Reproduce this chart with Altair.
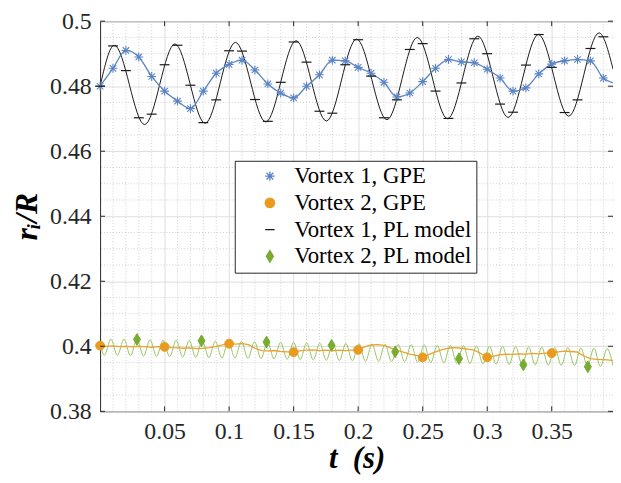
import altair as alt
import pandas as pd

# ---------------- data ----------------
series_names = ["Vortex 1, GPE", "Vortex 2, GPE", "Vortex 1, PL model", "Vortex 2, PL model"]

# Vortex 1, GPE (markers every 0.01 s)
t_gpe1 = [0.00, 0.01, 0.02, 0.03, 0.04, 0.05, 0.06, 0.07, 0.08, 0.09,
          0.10, 0.11, 0.12, 0.13, 0.14, 0.15, 0.16, 0.17, 0.18, 0.19,
          0.20, 0.21, 0.22, 0.23, 0.24, 0.25, 0.26, 0.27, 0.28, 0.29,
          0.30, 0.31, 0.32, 0.33, 0.34, 0.35, 0.36, 0.37, 0.38, 0.39]
r_gpe1 = [0.4800, 0.4855, 0.4910, 0.4890, 0.4830, 0.4785, 0.4754, 0.4731, 0.4785, 0.4840,
          0.4867, 0.4880, 0.4850, 0.4807, 0.4779, 0.4764, 0.4800, 0.4835, 0.4880, 0.4878,
          0.4858, 0.4840, 0.4812, 0.4767, 0.4779, 0.4814, 0.4855, 0.4882, 0.4875, 0.4872,
          0.4852, 0.4825, 0.4785, 0.4795, 0.4838, 0.4868, 0.4878, 0.4882, 0.4878, 0.4825]
t_gpe1_end = [0.3975]
r_gpe1_end = [0.4810]

# Vortex 2, GPE line
t_gpe2 = [0.000, 0.005, 0.010, 0.015, 0.020, 0.025, 0.030, 0.035, 0.040, 0.045,
          0.050, 0.055, 0.060, 0.065, 0.070, 0.075, 0.080, 0.085, 0.090, 0.095,
          0.100, 0.105, 0.110, 0.115, 0.120, 0.125, 0.130, 0.135, 0.140, 0.145,
          0.150, 0.155, 0.160, 0.165, 0.170, 0.175, 0.180, 0.185, 0.190, 0.195,
          0.200, 0.205, 0.210, 0.215, 0.220, 0.225, 0.230, 0.235, 0.240, 0.245,
          0.250, 0.255, 0.260, 0.265, 0.270, 0.275, 0.280, 0.285, 0.290, 0.295,
          0.300, 0.305, 0.310, 0.315, 0.320, 0.325, 0.330, 0.335, 0.340, 0.345,
          0.350, 0.355, 0.360, 0.365, 0.370, 0.375, 0.380, 0.385, 0.390, 0.3975]
r_gpe2 = [0.4002, 0.4000, 0.4001, 0.3999, 0.4000, 0.3998, 0.4000, 0.3999, 0.3997, 0.3999,
          0.3998, 0.3996, 0.3995, 0.3994, 0.3995, 0.3993, 0.3994, 0.3996, 0.3999, 0.4004,
          0.4008, 0.4007, 0.4008, 0.4005, 0.3994, 0.3987, 0.3986, 0.3987, 0.3984, 0.3983,
          0.3982, 0.3986, 0.3988, 0.3989, 0.3987, 0.3988, 0.3986, 0.3988, 0.3987, 0.3988,
          0.3989, 0.3998, 0.4004, 0.4005, 0.4003, 0.3995, 0.3988, 0.3982, 0.3976, 0.3972,
          0.3966, 0.3975, 0.3983, 0.3990, 0.3994, 0.3996, 0.3994, 0.3991, 0.3988, 0.3978,
          0.3966, 0.3970, 0.3974, 0.3976, 0.3975, 0.3977, 0.3976, 0.3978, 0.3977, 0.3979,
          0.3979, 0.3983, 0.3985, 0.3984, 0.3982, 0.3970, 0.3962, 0.3960, 0.3959, 0.3957]
# Vortex 2, GPE markers
t_gpe2_m = [0.00, 0.05, 0.10, 0.15, 0.20, 0.25, 0.30, 0.35]
r_gpe2_m = [0.4002, 0.3998, 0.4008, 0.3982, 0.3989, 0.3966, 0.3966, 0.3979]

# Vortex 1, PL model line (start, peaks/troughs, end)
t_pl1 = [0.0, 0.0110, 0.0345, 0.0580, 0.0814, 0.1049, 0.1284, 0.1519, 0.1754,
         0.1988, 0.2223, 0.2458, 0.2693, 0.2928, 0.3162, 0.3397, 0.3632, 0.3867, 0.3975]
r_pl1 = [0.4800, 0.4926, 0.4682, 0.4930, 0.4686, 0.4935, 0.4690, 0.4940, 0.4693,
         0.4945, 0.4697, 0.4950, 0.4700, 0.4954, 0.4704, 0.4959, 0.4708, 0.4964, 0.4853]
# Vortex 1, PL model markers (every 0.01 s)
t_pl1_m = t_gpe1
r_pl1_m = [0.4800, 0.4924, 0.4848, 0.4703, 0.4714, 0.4866, 0.4926, 0.4803, 0.4688, 0.4758,
           0.4909, 0.4908, 0.4759, 0.4692, 0.4812, 0.4936, 0.4874, 0.4723, 0.4717, 0.4866,
           0.4943, 0.4831, 0.4703, 0.4758, 0.4913, 0.4931, 0.4785, 0.4701, 0.4810, 0.4946,
           0.4900, 0.4745, 0.4720, 0.4865, 0.4959, 0.4858, 0.4719, 0.4758, 0.4916, 0.4952]

# Vortex 2, PL model line (start, troughs/peaks, end)
t_pl2 = [0.0, 0.0033, 0.0084, 0.0134, 0.0185, 0.0235, 0.0286, 0.0337, 0.0387, 0.0438,
         0.0488, 0.0539, 0.0590, 0.0640, 0.0691, 0.0741, 0.0792, 0.0843, 0.0893, 0.0944,
         0.0994, 0.1045, 0.1095, 0.1146, 0.1197, 0.1247, 0.1298, 0.1348, 0.1399, 0.1450,
         0.1500, 0.1551, 0.1601, 0.1652, 0.1703, 0.1753, 0.1804, 0.1854, 0.1905, 0.1955,
         0.2006, 0.2057, 0.2107, 0.2158, 0.2208, 0.2259, 0.2310, 0.2360, 0.2411, 0.2461,
         0.2512, 0.2563, 0.2613, 0.2664, 0.2714, 0.2765, 0.2816, 0.2866, 0.2917, 0.2967,
         0.3018, 0.3069, 0.3119, 0.3170, 0.3220, 0.3271, 0.3321, 0.3372, 0.3423, 0.3473,
         0.3524, 0.3574, 0.3625, 0.3676, 0.3726, 0.3777, 0.3827, 0.3878, 0.3929, 0.3975]
r_pl2 = [0.4009, 0.3973, 0.4022, 0.3972, 0.4022, 0.3971, 0.4021, 0.3970, 0.4020, 0.3969,
         0.4019, 0.3968, 0.4019, 0.3967, 0.4018, 0.3966, 0.4017, 0.3965, 0.4016, 0.3964,
         0.4016, 0.3964, 0.4015, 0.3963, 0.4014, 0.3962, 0.4013, 0.3961, 0.4012, 0.3960,
         0.4012, 0.3959, 0.4011, 0.3958, 0.4010, 0.3957, 0.4009, 0.3956, 0.4009, 0.3955,
         0.4008, 0.3954, 0.4007, 0.3954, 0.4006, 0.3953, 0.4006, 0.3952, 0.4005, 0.3951,
         0.4004, 0.3950, 0.4003, 0.3949, 0.4003, 0.3948, 0.4002, 0.3947, 0.4001, 0.3946,
         0.4000, 0.3945, 0.4000, 0.3944, 0.3999, 0.3943, 0.3998, 0.3943, 0.3997, 0.3942,
         0.3996, 0.3941, 0.3996, 0.3940, 0.3995, 0.3939, 0.3994, 0.3938, 0.3993, 0.3940]
# Vortex 2, PL model markers
t_pl2_m = [0.0286, 0.0786, 0.1290, 0.1794, 0.2287, 0.2782, 0.3280, 0.3780]
r_pl2_m = [0.4021, 0.4017, 0.4013, 0.4003, 0.3983, 0.3962, 0.3943, 0.3937]

# axis ticks / grid
x_ticks = [0.05, 0.10, 0.15, 0.20, 0.25, 0.30, 0.35]
y_ticks = [0.38, 0.40, 0.42, 0.44, 0.46, 0.48, 0.50]
x_minor = [0.01, 0.02, 0.03, 0.04, 0.06, 0.07, 0.08, 0.09, 0.11, 0.12, 0.13, 0.14,
           0.16, 0.17, 0.18, 0.19, 0.21, 0.22, 0.23, 0.24, 0.26, 0.27, 0.28, 0.29,
           0.31, 0.32, 0.33, 0.34, 0.36, 0.37, 0.38, 0.39]
y_minor = [0.385, 0.39, 0.395, 0.405, 0.41, 0.415, 0.425, 0.43, 0.435, 0.445, 0.45,
           0.455, 0.465, 0.47, 0.475, 0.485, 0.49, 0.495]
x_domain = [0.0, 0.3975]
y_domain = [0.38, 0.50]

# ---------------- styling ----------------
W, H = 518, 394
FONT = "Liberation Serif, Times New Roman, serif"
colors = ["#5b84c4", "#e89b1e", "#1a1a1a", "#77ac30"]
ASTERISK = "M0,-1L0,1M-1,0L1,0M-0.72,-0.72L0.72,0.72M-0.72,0.72L0.72,-0.72"
DIAMOND = "M0,-1.25L0.75,0L0,1.25L-0.75,0Z"
shapes = [ASTERISK, "circle", "stroke", DIAMOND]

xs = alt.Scale(domain=x_domain, nice=False, zero=False)
ys = alt.Scale(domain=y_domain, nice=False, zero=False)

xaxis = alt.Axis(values=x_ticks, format=".2~f", grid=True, gridColor="#dedede", gridWidth=1,
                 ticks=False, domain=False, labelFont=FONT, labelFontSize=24,
                 labelColor="#262626", labelPadding=8, title="t\u00a0\u00a0(s)", titleFont=FONT,
                 titleFontSize=31, titleFontStyle="italic", titleFontWeight="bold",
                 titleColor="#000000", titlePadding=1)
yaxis = alt.Axis(values=y_ticks, format=".2~f", grid=True, gridColor="#dedede", gridWidth=1,
                 ticks=False, domain=False, labelFont=FONT, labelFontSize=24,
                 labelColor="#262626", labelPadding=9, title="rᵢ/R", titleFont=FONT,
                 titleFontSize=32, titleFontStyle="italic", titleFontWeight="bold",
                 titleColor="#000000", titlePadding=6)


def X():
    return alt.X("t:Q", scale=xs, axis=xaxis)


def Y():
    return alt.Y("r:Q", scale=ys, axis=yaxis)


legend = alt.Legend(title=None, orient="none", legendX=136, legendY=141, padding=4,
                    symbolOffset=20, labelOffset=13, rowPadding=3, labelFont=FONT,
                    labelFontSize=23, labelColor="#000000", symbolSize=90,
                    symbolStrokeWidth=1.3, strokeColor="#262626", fillColor="white",
                    labelLimit=400, cornerRadius=0)

fill_enc = alt.Fill("series:N", scale=alt.Scale(domain=series_names, range=colors), legend=legend)
stroke_enc = alt.Stroke("series:N", scale=alt.Scale(domain=series_names, range=colors), legend=legend)
shape_enc = alt.Shape("series:N", scale=alt.Scale(domain=series_names, range=shapes), legend=legend)


def df(ts, rs, name=None):
    d = pd.DataFrame({"t": ts, "r": rs})
    if name is not None:
        d["series"] = name
    return d


# grid / ticks layers
minor_x = alt.Chart(pd.DataFrame({"t": x_minor})).mark_rule(
    color="#c4c4c4", strokeWidth=0.8, strokeDash=[1, 2]).encode(x=X())
minor_y = alt.Chart(pd.DataFrame({"r": y_minor})).mark_rule(
    color="#c4c4c4", strokeWidth=0.8, strokeDash=[1, 2]).encode(y=Y())

tick_style = dict(color="#262626", strokeWidth=1)
xt = pd.DataFrame({"t": x_ticks})
yt = pd.DataFrame({"r": y_ticks})
ticks_bottom = alt.Chart(xt).mark_rule(**tick_style).encode(x=X(), y=alt.value(H), y2=alt.value(H - 5))
ticks_top = alt.Chart(xt).mark_rule(**tick_style).encode(x=X(), y=alt.value(0), y2=alt.value(5))
ticks_left = alt.Chart(yt).mark_rule(**tick_style).encode(y=Y(), x=alt.value(0), x2=alt.value(5))
ticks_right = alt.Chart(yt).mark_rule(**tick_style).encode(y=Y(), x=alt.value(W), x2=alt.value(W - 5))

# data layers
line_pl1 = alt.Chart(df(t_pl1, r_pl1)).mark_line(
    color=colors[2], strokeWidth=1, interpolate="monotone").encode(x=X(), y=Y())
line_gpe1 = alt.Chart(df(t_gpe1 + t_gpe1_end, r_gpe1 + r_gpe1_end)).mark_line(
    color=colors[0], strokeWidth=1.3, interpolate="monotone").encode(x=X(), y=Y())
pts_gpe1 = alt.Chart(df(t_gpe1, r_gpe1, series_names[0])).mark_point(
    filled=True, size=80, strokeWidth=1.1, opacity=1).encode(
    x=X(), y=Y(), fill=fill_enc, stroke=stroke_enc, shape=shape_enc)
pts_pl1 = alt.Chart(df(t_pl1_m, r_pl1_m, series_names[2])).mark_point(
    filled=True, size=100, strokeWidth=1.2, opacity=1).encode(
    x=X(), y=Y(), fill=fill_enc, stroke=stroke_enc, shape=shape_enc)
line_pl2 = alt.Chart(df(t_pl2, r_pl2)).mark_line(
    color="#8cbf52", strokeWidth=0.9, interpolate="monotone").encode(x=X(), y=Y())
line_gpe2 = alt.Chart(df(t_gpe2, r_gpe2)).mark_line(
    color="#eba22e", strokeWidth=1.3).encode(x=X(), y=Y())
pts_gpe2 = alt.Chart(df(t_gpe2_m, r_gpe2_m, series_names[1])).mark_point(
    filled=True, size=80, strokeWidth=1, opacity=1).encode(
    x=X(), y=Y(), fill=fill_enc, stroke=stroke_enc, shape=shape_enc)
pts_pl2 = alt.Chart(df(t_pl2_m, r_pl2_m, series_names[3])).mark_point(
    filled=True, size=90, strokeWidth=1, opacity=1).encode(
    x=X(), y=Y(), fill=fill_enc, stroke=stroke_enc, shape=shape_enc)

chart = alt.layer(
    minor_x, minor_y,
    line_pl1, line_gpe1, pts_gpe1, pts_pl1,
    line_pl2, line_gpe2, pts_gpe2, pts_pl2,
    ticks_bottom, ticks_top, ticks_left, ticks_right,
).properties(
    width=W, height=H,
    autosize=alt.AutoSizeParams(type="none"),
    padding={"left": 93, "top": 11, "right": 0, "bottom": 62},
    background="white",
).configure(font=FONT).configure_view(stroke="#262626", strokeWidth=1)

chart.save("out.html", embed_options={"renderer": "svg", "actions": False})
